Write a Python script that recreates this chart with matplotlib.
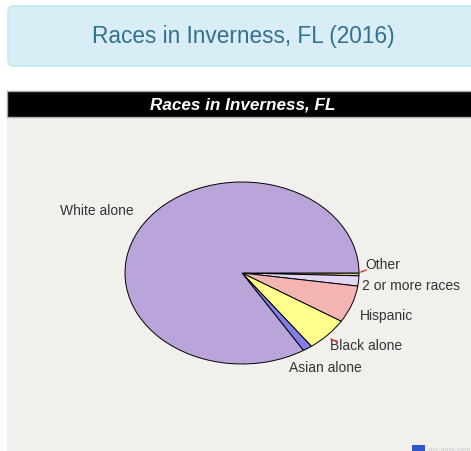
import matplotlib
matplotlib.use('Agg')
import matplotlib.pyplot as plt
from matplotlib.patches import FancyBboxPatch, Rectangle

# ---- data ----
categories = ['Other', '2 or more races', 'Hispanic', 'Black alone', 'Asian alone', 'White alone']
shares = [0.5, 1.8, 6.6, 6.0, 1.3, 83.8]
colors = ['#d8c878', '#e2d6f4', '#f4b4b4', '#ffff8e', '#7f7fe6', '#b9a5d9']
page_title = 'Races in Inverness, FL (2016)'
chart_title = 'Races in Inverness, FL'

# label anchor positions (pixels from top-left), layout only
label_pos = {
    'White alone': (60, 211),
    'Other': (365, 265),
    '2 or more races': (362, 286),
    'Hispanic': (360, 316),
    'Black alone': (330, 346),
    'Asian alone': (289, 368),
}

W, H = 471, 452
fig = plt.figure(figsize=(W / 100, H / 100), dpi=100)
fig.patch.set_facecolor('white')

bg = fig.add_axes([0, 0, 1, 1])
bg.set_xlim(0, W)
bg.set_ylim(H, 0)
bg.axis('off')

# banner
bg.add_patch(FancyBboxPatch((8, 7), 480, 60, boxstyle='round,pad=0,rounding_size=5',
                            fc='#d9edf7', ec='#bce8f1', lw=1))
bg.text(243, 37, page_title, color='#31708f', fontsize=16.3, ha='center', va='center',
        family='Liberation Sans')

# chart background and header bar
bg.add_patch(Rectangle((7, 118), 470, 340, fc='#f2f0ed', ec='none'))
bg.add_patch(Rectangle((7, 92), 470, 26, fc='black', ec='#aaaaaa', lw=1))
bg.text(243, 105, chart_title, color='white', fontsize=12.3, fontweight='bold',
        style='italic', ha='center', va='center', family='Liberation Sans')

# pie (elliptical)
cx, cy, a, b = 242, 274, 117, 91
ax = fig.add_axes([(cx - a) / W, (H - cy - b) / H, 2 * a / W, 2 * b / H])
ax.pie(shares, colors=colors, startangle=0, counterclock=False, radius=1,
       wedgeprops=dict(edgecolor='black', linewidth=0.7))
ax.set_aspect('auto')
ax.set_xlim(-1, 1)
ax.set_ylim(-1, 1)
ax.axis('off')

for cat in categories:
    x, y = label_pos[cat]
    bg.text(x, y, cat, color='#333333', fontsize=10, ha='left', va='center',
            family='Liberation Sans', zorder=5)

# small red leader ticks
bg.plot([361, 366], [273, 271], color='#e03030', lw=1, zorder=6)
bg.plot([331, 337], [340, 343], color='#e03030', lw=1, zorder=6)

# faint logo
bg.add_patch(Rectangle((412, 446), 13, 8, fc='#3355cc', ec='none'))
bg.text(428, 450, 'city-data.com', color='#c8c8c8', fontsize=4.5, ha='left', va='center')

fig.savefig('out.png', dpi=100, facecolor=fig.get_facecolor())
